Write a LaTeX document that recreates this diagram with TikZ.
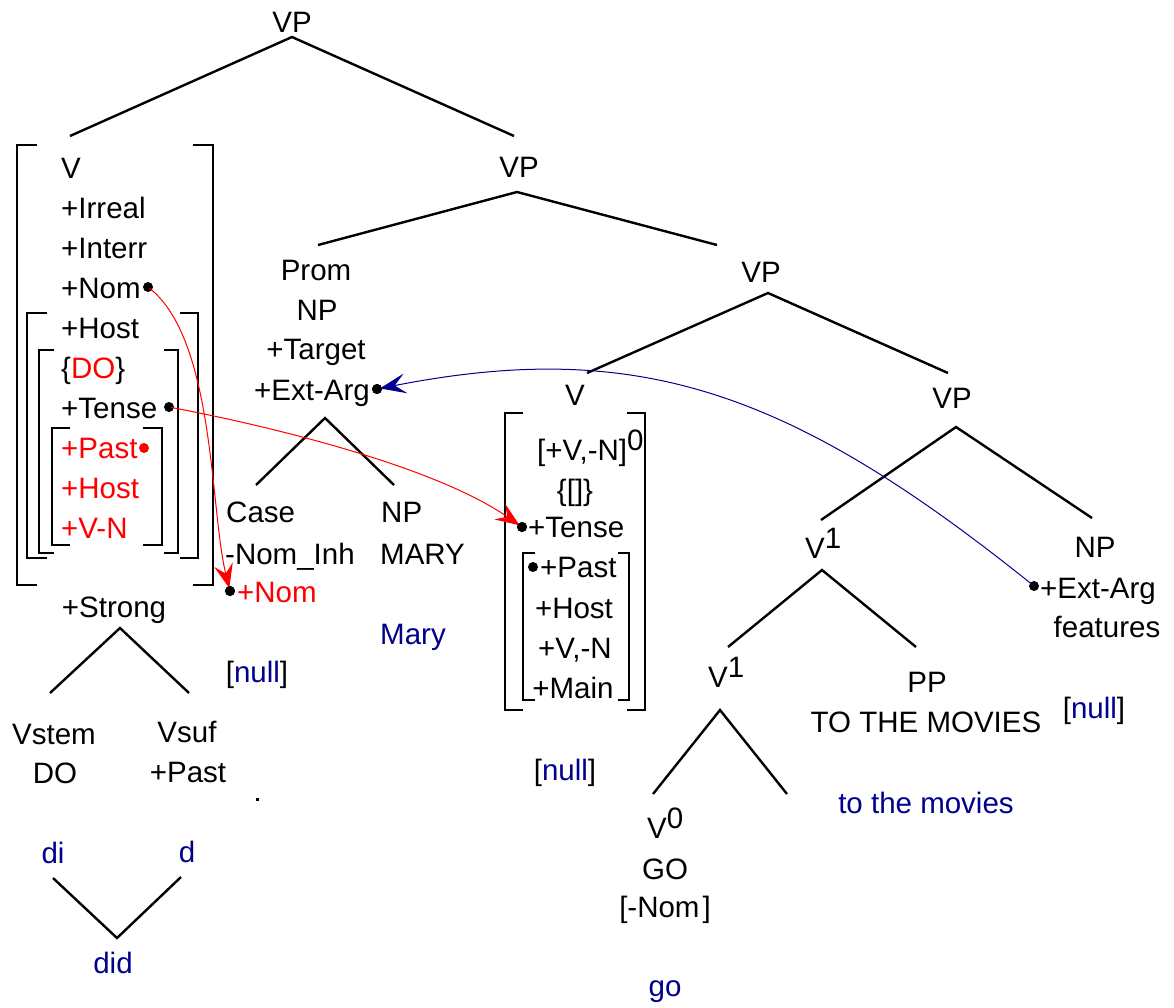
\documentclass[tikz,border=0pt]{standalone}
\usepackage{fontspec}
\setmainfont{Liberation Sans}
\usetikzlibrary{arrows.meta}
\definecolor{navy}{RGB}{0,0,140}
\newcommand{\upr}[1]{\raisebox{10pt}{#1}}
\begin{document}
\begin{tikzpicture}[x=1pt,y=-1pt,
  every node/.style={inner sep=0pt,font=\fontsize{29.5}{40}\selectfont},
  lbl/.style={anchor=base},
  lft/.style={anchor=base west},
  gloss/.style={anchor=base,text=navy},
  branch/.style={line width=2.4pt},
  brk/.style={line width=2.6pt},
  pt/.style={circle,fill=black,minimum size=10pt},
  link/.style={line width=1pt,shorten >=3pt,shorten <=2pt},
  redlink/.style={link,red,-{Stealth[length=24pt,width=19pt,inset=9pt]}},
  bluelink/.style={link,navy,-{Stealth[length=26pt,width=20pt,inset=11pt]}}]

\useasboundingbox (0,0) rectangle (1174,1007);

% ---------- top of the tree ----------
\node[lbl] (vp1) at (292,32) {VP};
\coordinate (vp1a) at (292,37);
\coordinate (vp1l) at (70,136);
\coordinate (vp1r) at (514,136);
\draw[branch] (vp1l) -- (vp1a) -- (vp1r);

% ---------- left feature bundle ----------
\node[lft] (f0) at (61,178) {V};
\node[lft] (f1) at (61,218) {+Irreal};
\node[lft] (f2) at (61,258) {+Interr};
\node[lft] (f3) at (61,298) {+Nom};
\node[lft] (f4) at (61,338) {+Host};
\node[lft] (f5) at (61,378) {\{\textcolor{red}{DO}\}};
\node[lft] (f6) at (61,418) {+Tense};
\node[lft,text=red] (f7) at (61,458) {+Past};
\node[lft,text=red] (f8) at (61,498) {+Host};
\node[lft,text=red] (f9) at (61,538) {+V-N};
\node[pt] (nomA) at (148,287) {};
\node[pt] (tenseA) at (169,407) {};
\node[pt,fill=red] (pastA) at (144,448) {};

% nested square brackets
\draw[brk] (37,145) -- (17,145) -- (17,585) -- (37,585);
\draw[brk] (193,145) -- (213,145) -- (213,585) -- (193,585);
\draw[brk] (47,313) -- (27,313) -- (27,558) -- (47,558);
\draw[brk] (180,313) -- (198,313) -- (198,558) -- (180,558);
\draw[brk] (54,350) -- (39,350) -- (39,553) -- (54,553);
\draw[brk] (164,350) -- (178,350) -- (178,553) -- (164,553);
\draw[brk] (70,428) -- (52,428) -- (52,545) -- (70,545);
\draw[brk] (143,428) -- (162,428) -- (162,545) -- (143,545);

\node[lbl] (strong) at (114,617) {+Strong};
\coordinate (sa) at (120,628);
\coordinate (sl) at (50,693);
\coordinate (sr) at (189,693);
\draw[branch] (sl) -- (sa) -- (sr);
\node[lbl] (vstem) at (54,744) {Vstem};
\node[lbl] (vdo) at (55,783) {DO};
\node[lbl] (vsuf) at (187,742) {Vsuf};
\node[lbl] (vpast) at (188,782) {+Past};
\node[fill=black,minimum size=3pt] (speck) at (257,799) {};
\node[gloss] (di) at (53,863) {di};
\node[gloss] (dd) at (187,862) {d};
\node[gloss] (did) at (113,973) {did};
\coordinate (dil) at (53,878);
\coordinate (dib) at (117,938);
\coordinate (dir) at (181,877);
\draw[branch] (dil) -- (dib) -- (dir);

% ---------- second VP ----------
\node[lbl] (vp2) at (519,177) {VP};
\coordinate (vp2a) at (517,192);
\coordinate (vp2l) at (318,245);
\coordinate (vp2r) at (717,245);
\draw[branch] (vp2l) -- (vp2a) -- (vp2r);

\node[lbl] (prom) at (316,280) {Prom};
\node[lbl] (pnp) at (317,320) {NP};
\node[lbl] (ptarget) at (316,359) {+Target};
\node[lbl] (pext) at (312,400) {+Ext-Arg};
\node[pt] (extA) at (377,389) {};
\coordinate (pa) at (325,418);
\coordinate (pl) at (256,485);
\coordinate (pr) at (394,485);
\draw[branch] (pl) -- (pa) -- (pr);
\node[lft] (case) at (226,522) {Case};
\node[lft] (inh) at (225,564) {-Nom\_Inh};
\node[lft] (np2) at (381,522) {NP};
\node[lft] (mary) at (380,564) {MARY};
\node[pt] (nomB) at (230,591) {};
\node[lft,text=red] (nomtxt) at (237,602) {+Nom};
\node[lbl] (null1) at (257,682) {[\textcolor{navy}{null}]};
\node[gloss] (maryg) at (413,644) {Mary};

% ---------- third VP ----------
\node[lbl] (vp3) at (761,282) {VP};
\coordinate (vp3a) at (768,293);
\coordinate (vp3l) at (587,373);
\coordinate (vp3r) at (948,373);
\draw[branch] (vp3l) -- (vp3a) -- (vp3r);

% middle verb bundle
\node[lbl] (mv) at (575,405) {V};
\node[lft] (m1) at (537,460) {[+V,-N]\upr{0}};
\node[lbl] (m2) at (575,500) {\{[]\}};
\node[lft] (m3) at (528,537) {+Tense};
\node[lft] (m4) at (540,577) {+Past};
\node[lbl] (m5) at (574,618) {+Host};
\node[lbl] (m6) at (575,658) {+V,-N};
\node[lbl] (m7) at (573,698) {+Main};
\node[pt] (tenseB) at (522,527) {};
\node[pt] (pastB) at (533,567) {};
\draw[brk] (523,413) -- (505,413) -- (505,710) -- (523,710);
\draw[brk] (627,413) -- (645,413) -- (645,710) -- (627,710);
\draw[brk] (535,553) -- (523,553) -- (523,700) -- (535,700);
\draw[brk] (618,553) -- (629,553) -- (629,700) -- (618,700);
\node[lbl] (null2) at (565,780) {[\textcolor{navy}{null}]};

% ---------- fourth VP ----------
\node[lbl] (vp4) at (952,408) {VP};
\coordinate (vp4a) at (956,427);
\coordinate (vp4l) at (821,520);
\coordinate (vp4r) at (1092,518);
\draw[branch] (vp4l) -- (vp4a) -- (vp4r);

\node[lft] (vbar1) at (805,558) {V\upr{1}};
\coordinate (v1a) at (822,570);
\coordinate (v1l) at (728,647);
\coordinate (v1r) at (916,647);
\draw[branch] (v1l) -- (v1a) -- (v1r);

\node[lbl] (np3) at (1095,557) {NP};
\node[lft] (ext3) at (1040,598) {+Ext-Arg};
\node[lbl] (feat) at (1107,637) {features};
\node[pt] (extB) at (1034,586) {};
\node[lbl] (null3) at (1094,718) {[\textcolor{navy}{null}]};

\node[lft] (vbar2) at (708,687) {V\upr{1}};
\coordinate (v2a) at (720,710);
\coordinate (v2l) at (653,794);
\coordinate (v2r) at (787,794);
\draw[branch] (v2l) -- (v2a) -- (v2r);

\node[lbl] (pp) at (927,692) {PP};
\node[lbl] (ttm) at (926,732) {TO THE MOVIES};
\node[gloss] (ttmg) at (926,813) {to the movies};

\node[lft] (v0) at (647,838) {V\upr{0}};
\node[lbl] (go) at (665,879) {GO};
\node[lbl] (mnom) at (665,917) {[-Nom\hspace{3pt}]};
\node[gloss] (gog) at (665,996) {go};

% ---------- feature links ----------
\draw[redlink] (nomA.center) .. controls (215,340) and (210,510) .. (nomB.center);
\draw[redlink] (tenseA.center) .. controls (290,430) and (440,470) .. (tenseB.center);
\draw[bluelink] (extB.center) .. controls (790,390) and (637,338) .. (extA.center);
\node[pt] at (nomB) {};
\node[pt] at (tenseB) {};
\node[pt] at (extA) {};
\end{tikzpicture}
\end{document}
